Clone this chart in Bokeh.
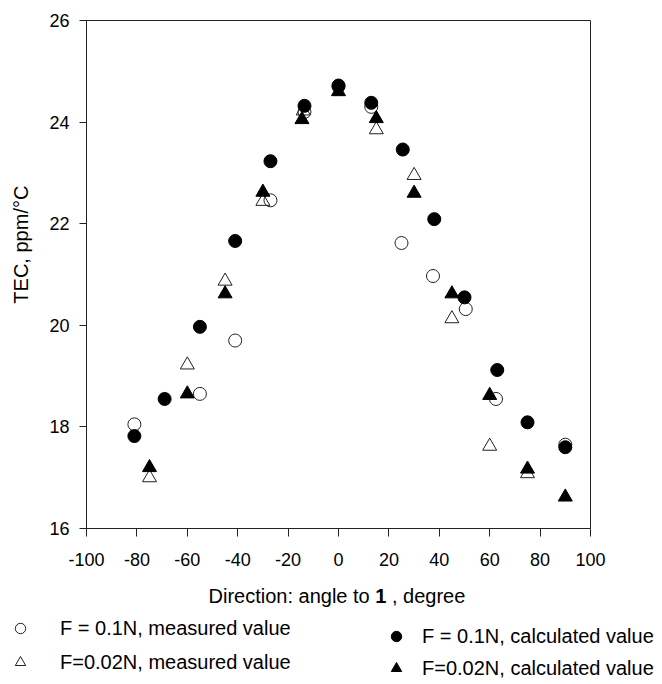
from bokeh.plotting import figure
from bokeh.layouts import column, row
from bokeh.models import Range1d, FixedTicker, Label, Legend, LegendItem
from bokeh.embed import file_html
from bokeh.resources import INLINE
import math

# ---- data ----
x_ticks = [-100, -80, -60, -40, -20, 0, 20, 40, 60, 80, 100]
y_ticks = [16, 18, 20, 22, 24, 26]

circ_meas_x = [-81, -55, -41, -27, -13.5, 0, 13, 25, 37.5, 50.5, 62.5, 90]
circ_meas_y = [18.05, 18.65, 19.7, 22.46, 24.2, 24.7, 24.3, 21.62, 20.97, 20.32, 18.55, 17.65]

circ_calc_x = [-81, -69, -55, -41, -27, -13.5, 0, 13, 25.5, 38, 50, 63, 75, 90]
circ_calc_y = [17.82, 18.55, 19.97, 21.66, 23.23, 24.32, 24.72, 24.38, 23.46, 22.09, 20.55, 19.12, 18.09, 17.6]

tri_meas_x = [-75, -60, -45, -30, -14, 15, 30, 45, 60, 75]
tri_meas_y = [17.0, 19.22, 20.87, 22.44, 24.22, 23.85, 22.95, 20.13, 17.62, 17.08]

tri_calc_x = [-75, -60, -45, -30, -14.5, 0, 15, 30, 45, 60, 75, 90]
tri_calc_y = [17.2, 18.65, 20.62, 22.62, 24.05, 24.6, 24.07, 22.6, 20.62, 18.62, 17.17, 16.62]

legend_left = ["F = 0.1N, measured value", "F=0.02N, measured value"]
legend_right = ["F = 0.1N, calculated value", "F=0.02N, calculated value"]
x_title_parts = ["Direction: angle to", "1", ", degree"]
y_title = "TEC, ppm/°C"

FONT = "Liberation Sans"
W, H = 662, 684
YW = 40          # width of the strip holding the y title
MAIN_H = 578     # height of the main chart
BOT_H = H - MAIN_H

# ---- main chart ----
p = figure(width=W - YW, height=MAIN_H, output_backend="svg", toolbar_location=None,
           x_range=Range1d(-100, 100), y_range=Range1d(16, 26),
           min_border_left=86 - YW, min_border_right=72, min_border_top=20, min_border_bottom=50)
p.background_fill_color = "white"
p.border_fill_color = "white"
p.outline_line_color = "#222222"
p.outline_line_width = 1
p.xgrid.grid_line_color = None
p.ygrid.grid_line_color = None

for ax, ticks, tout in ((p.xaxis, x_ticks, 8), (p.yaxis, y_ticks, 7)):
    ax.ticker = FixedTicker(ticks=ticks)
    ax.major_tick_in = 0
    ax.major_tick_out = tout
    ax.minor_tick_line_color = None
    ax.axis_line_color = "#222222"
    ax.major_tick_line_color = "#222222"
    ax.major_label_text_font = FONT
    ax.major_label_text_font_size = "18px"
    ax.major_label_text_color = "black"
    ax.major_label_overrides = {t: str(t) for t in ticks}
p.xaxis.major_label_standoff = 16
p.yaxis.major_label_standoff = 10

def add_series(fig, xs, ys, marker, filled):
    size = 13 if marker == "circle" else 14
    if filled:
        return fig.scatter(xs, ys, marker=marker, size=size,
                           fill_color="black", line_color="black")
    return fig.scatter(xs, ys, marker=marker, size=size,
                       fill_color="white", fill_alpha=0.0, line_color="#222222", line_width=1)

add_series(p, circ_meas_x, circ_meas_y, "circle", False)
add_series(p, tri_meas_x, tri_meas_y, "triangle", False)
add_series(p, circ_calc_x, circ_calc_y, "circle", True)
add_series(p, tri_calc_x, tri_calc_y, "triangle", True)

def blank_fig(w, h):
    f = figure(width=w, height=h, output_backend="svg", toolbar_location=None,
               x_range=Range1d(0, w), y_range=Range1d(h, 0),
               min_border=0, min_border_left=0, min_border_right=0,
               min_border_top=0, min_border_bottom=0)
    f.axis.visible = False
    f.xgrid.visible = False
    f.ygrid.visible = False
    f.outline_line_color = None
    f.background_fill_color = "white"
    f.border_fill_color = "white"
    return f

# ---- y title strip ----
yf = blank_fig(YW, MAIN_H)
yf.add_layout(Label(x=20, y=255, text=y_title, angle=math.pi / 2,
                    text_align="center", text_baseline="middle",
                    text_font=FONT, text_font_size="20px", text_color="black"))

# ---- bottom strip: x title and legends ----
bf = blank_fig(W, BOT_H)
xs = [208, 374.7, 391.4]
for txt, xx, style in zip(x_title_parts, xs, ["normal", "bold", "normal"]):
    bf.add_layout(Label(x=xx, y=17, text=txt, text_align="left", text_baseline="middle",
                        text_font_style=style, text_font=FONT, text_font_size="20px",
                        text_color="black"))

# legend-only renderers (their single point lies outside the visible strip)
off = [-1000]
d_cm = add_series(bf, off, off, "circle", False)
d_tm = add_series(bf, off, off, "triangle", False)
d_cc = add_series(bf, off, off, "circle", True)
d_tc = add_series(bf, off, off, "triangle", True)

def make_legend(items, loc, standoff, spacing):
    return Legend(items=items, location=loc, orientation="vertical",
                  glyph_width=26, glyph_height=26, label_height=26, label_standoff=standoff,
                  spacing=spacing, padding=0, margin=0,
                  label_text_font=FONT, label_text_font_size="20px", label_text_color="black",
                  background_fill_alpha=0, border_line_alpha=0)

lg1 = make_legend([LegendItem(label=legend_left[0], renderers=[d_cm]),
                   LegendItem(label=legend_left[1], renderers=[d_tm])], (7, 9), 27, 8)
lg2 = make_legend([LegendItem(label=legend_right[0], renderers=[d_cc]),
                   LegendItem(label=legend_right[1], renderers=[d_tc])], (383, 3), 13, 6)
bf.add_layout(lg1)
bf.add_layout(lg2)

layout = column(row(yf, p, spacing=0), bf, spacing=0)
open("out.html", "w").write(file_html(layout, INLINE))
